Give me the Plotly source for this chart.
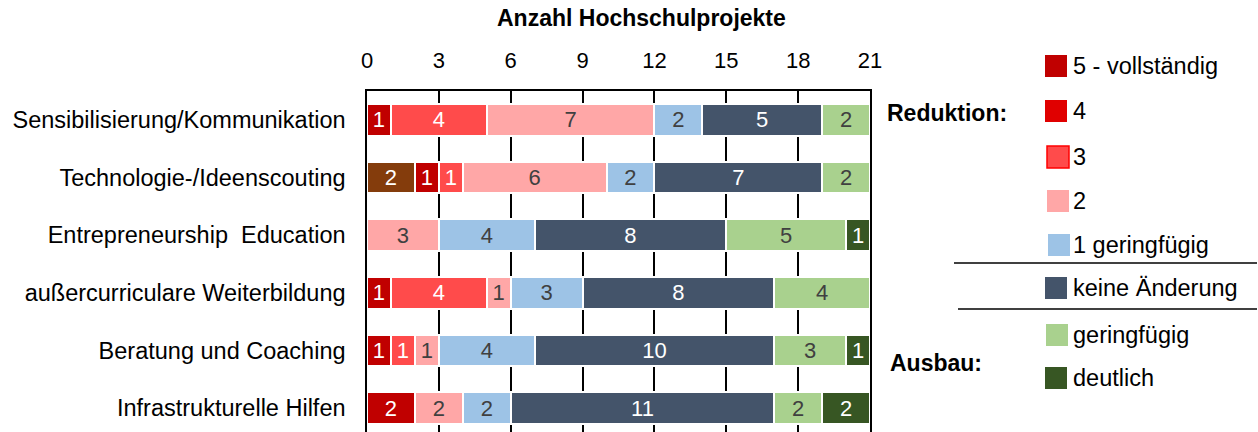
import plotly.graph_objects as go

# categories top to bottom
categories = [
    "Sensibilisierung/Kommunikation",
    "Technologie-/Ideenscouting",
    "Entrepreneurship  Education",
    "außercurriculare Weiterbildung",
    "Beratung und Coaching",
    "Infrastrukturelle Hilfen",
]

# segment values per colour, left to right (0 = no segment)
brown = [0, 2, 0, 0, 0, 0]
red_dark = [1, 1, 0, 1, 1, 2]
red = [4, 1, 0, 4, 1, 0]
pink = [7, 6, 3, 1, 1, 2]
blue_light = [2, 2, 4, 3, 4, 2]
slate = [5, 7, 8, 8, 10, 11]
green_light = [2, 2, 5, 4, 3, 2]
green_dark = [0, 0, 1, 0, 1, 2]

series = [brown, red_dark, red, pink, blue_light, slate, green_light, green_dark]
bar_colors = ["#843C0C", "#C00000", "#FF4B4B", "#FFA7A7", "#9DC3E6", "#44546A", "#A9D18E", "#375623"]
text_colors = ["white", "white", "white", "#404040", "#404040", "white", "#404040", "white"]

legend_names = ["5 - vollständig", "4", "3", "2", "1 geringfügig", "keine Änderung", "geringfügig", "deutlich"]
legend_colors = ["#C00000", "#E00000", "#FF4B4B", "#FFA7A7", "#9DC3E6", "#44546A", "#A9D18E", "#375623"]
legend_borders = [None, None, "#FF0000", None, None, None, None, None]

x_ticks = [0, 3, 6, 9, 12, 15, 18, 21]

FONT = "Liberation Sans, Arial, sans-serif"
W, H = 1258, 432
L, R, T = 367, 870, 91


def px_x(p):
    return (p - L) / (R - L)


def px_y(p):
    return (H - p) / (H - T)


fig = go.Figure()
for vals, col, tcol in zip(series, bar_colors, text_colors):
    xs = [v if v else None for v in vals]
    fig.add_trace(go.Bar(
        y=categories, x=xs, orientation="h",
        marker=dict(color=col, line=dict(color="white", width=2)),
        text=[str(v) if v else "" for v in vals],
        textposition="inside", insidetextanchor="middle", textangle=0,
        textfont=dict(color=tcol, size=22, family=FONT),
        showlegend=False, hoverinfo="skip",
    ))

shapes = []
annotations = []

# legend swatches and labels
legend_y = [66, 111, 157, 201, 245, 288, 335, 378]
legend_x0 = [1045, 1045, 1047, 1047, 1048, 1045, 1046, 1045]
for name, col, border, yc, x0 in zip(legend_names, legend_colors, legend_borders, legend_y, legend_x0):
    shapes.append(dict(
        type="rect", xref="paper", yref="paper",
        x0=px_x(x0), x1=px_x(x0 + 22), y0=px_y(yc + 11), y1=px_y(yc - 11),
        fillcolor=col, line=dict(color=border or col, width=1.5 if border else 0),
    ))
    annotations.append(dict(
        xref="paper", yref="paper", x=px_x(1071), y=px_y(yc),
        xanchor="left", yanchor="middle", text=name, showarrow=False,
        font=dict(size=23.5, color="black", family=FONT),
    ))

# separators between reduction / no change / expansion
for y, x0 in [(263, 954), (309, 958)]:
    shapes.append(dict(
        type="line", xref="paper", yref="paper",
        x0=px_x(x0), x1=px_x(1257), y0=px_y(y), y1=px_y(y),
        line=dict(color="black", width=1.5),
    ))

annotations.append(dict(
    xref="paper", yref="paper", x=px_x(885), y=px_y(113), xanchor="left", yanchor="middle",
    text="<b>Reduktion:</b>", showarrow=False, font=dict(size=23, color="black", family=FONT),
))
annotations.append(dict(
    xref="paper", yref="paper", x=px_x(888), y=px_y(363), xanchor="left", yanchor="middle",
    text="<b>Ausbau:</b>", showarrow=False, font=dict(size=23, color="black", family=FONT),
))
annotations.append(dict(
    xref="paper", yref="paper", x=px_x(641), y=px_y(18), xanchor="center", yanchor="middle",
    text="<b>Anzahl Hochschulprojekte</b>", showarrow=False,
    font=dict(size=23, color="black", family=FONT),
))

fig.update_layout(
    barmode="stack",
    bargap=0.45,
    width=W, height=H,
    margin=dict(l=L, r=W - R, t=T, b=0, pad=0),
    paper_bgcolor="white", plot_bgcolor="white",
    font=dict(family=FONT, color="black"),
    uniformtext=dict(minsize=22, mode="show"),
    shapes=shapes,
    annotations=annotations,
    xaxis=dict(
        side="top", range=[0, 21], tickvals=x_ticks, ticktext=[str(t) for t in x_ticks],
        showgrid=True, gridcolor="black", gridwidth=1.5,
        zeroline=False, showline=True, linecolor="black", linewidth=1.5,
        ticks="", ticklabelstandoff=12, tickfont=dict(size=22, color="black"),
    ),
    yaxis=dict(
        categoryorder="array", categoryarray=categories,
        range=[5.414, -0.5], showgrid=False, zeroline=False,
        showline=True, linecolor="black", linewidth=1.5, mirror=True,
        ticks="", ticklabelstandoff=15, tickfont=dict(size=23.5, color="black"),
    ),
)

fig.write_html("out.html", config={"displayModeBar": False},
               post_script="document.body.style.margin='0';")
